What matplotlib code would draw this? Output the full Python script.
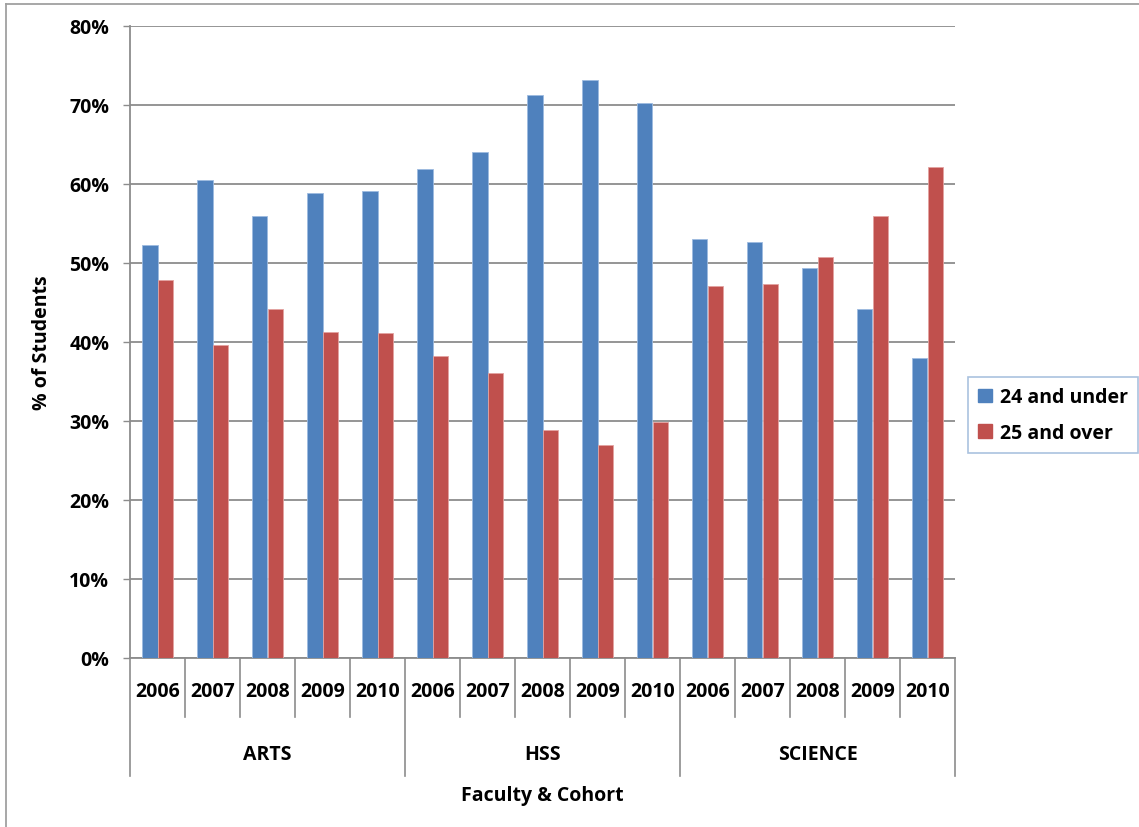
import numpy as np
import matplotlib
matplotlib.use("Agg")
import matplotlib.pyplot as plt
from matplotlib.lines import Line2D
from matplotlib.patches import Patch
from matplotlib.transforms import blended_transform_factory

plt.rcParams['font.family'] = ['Open Sans', 'DejaVu Sans']
plt.rcParams['font.weight'] = 'bold'

faculties = ["ARTS", "HSS", "SCIENCE"]
years = ["2006", "2007", "2008", "2009", "2010"]
under_24 = [52.3, 60.5, 55.9, 58.9, 59.1,
            61.9, 64.1, 71.3, 73.2, 70.3,
            53.0, 52.7, 49.4, 44.2, 38.0]
over_25 = [47.8, 39.6, 44.2, 41.2, 41.1,
           38.2, 36.0, 28.8, 26.9, 29.8,
           47.1, 47.3, 50.7, 55.9, 62.1]
series_names = ["24 and under", "25 and over"]

blue = "#4F81BD"
red = "#C0504D"
grid_col = "#8C8C8C"
fs = 14

W, H = 1139, 828
fig = plt.figure(figsize=(W / 100, H / 100), dpi=100)
left, right, top, bottom = 130, 955, 27, 658.7
ax = fig.add_axes([left / W, (H - bottom) / H, (right - left) / W, (bottom - top) / H])

n = len(under_24)
x = np.arange(n)
w = 0.28
ax.bar(x - w / 2, under_24, w, color=blue, edgecolor="#9dbbe0", linewidth=0.6, zorder=3)
ax.bar(x + w / 2, over_25, w, color=red, edgecolor="#e3a3a1", linewidth=0.6, zorder=3)

ax.set_xlim(-0.5, n - 0.5)
ax.set_ylim(0, 80)
ax.set_yticks(np.arange(0, 81, 10))
ax.set_yticklabels(["{}%".format(v) for v in range(0, 81, 10)], fontsize=fs, fontweight="bold")
ax.yaxis.grid(True, color=grid_col, linewidth=1.3, zorder=0)
ax.tick_params(axis="y", direction="out", length=5, width=1, color=grid_col, pad=10)

for s in ["top", "right"]:
    ax.spines[s].set_visible(False)
for s in ["left", "bottom"]:
    ax.spines[s].set_color(grid_col)
    ax.spines[s].set_linewidth(1.3)

# year labels as x ticks
ax.set_xticks(x)
ax.set_xticklabels(years * len(faculties), fontsize=fs, fontweight="bold")
ax.tick_params(axis="x", length=0, pad=17)

# separator lines of the two-level category axis
trans = blended_transform_factory(ax.transData, ax.transAxes)
ax_h = bottom - top
y_short = -(718 - bottom) / ax_h
y_long = -(777 - bottom) / ax_h
for k in range(n + 1):
    yb = y_long if k % len(years) == 0 else y_short
    ax.plot([k - 0.5, k - 0.5], [0, yb], color=grid_col, linewidth=1.2,
            transform=trans, clip_on=False)

y_fac = -(755 - bottom) / ax_h
for i, fac in enumerate(faculties):
    xc = i * len(years) + (len(years) - 1) / 2
    ax.text(xc, y_fac, fac, transform=trans, ha="center", va="center",
            fontsize=fs, fontweight="bold")

fig.text((left + right) / 2 / W, 1 - 796 / H, "Faculty & Cohort", ha="center", va="center",
         fontsize=fs, fontweight="bold")
fig.text(42 / W, 1 - (top + bottom) / 2 / H, "% of Students", ha="center", va="center",
         rotation=90, fontsize=fs, fontweight="bold")

handles = [Patch(color=blue), Patch(color=red)]
leg = fig.legend(handles, series_names, loc="center",
                 bbox_to_anchor=(1053 / W, 1 - 416 / H),
                 prop={"size": fs, "weight": "bold"}, frameon=True, fancybox=False,
                 handlelength=0.7, handleheight=0.7, handletextpad=0.4,
                 labelspacing=0.8, borderpad=0.55)
leg.get_frame().set_edgecolor("#95B3D7")
leg.get_frame().set_linewidth(1.2)

# outer chart border (top and left visible)
fig.add_artist(Line2D([6 / W, 6 / W], [0, 1 - 5 / H], color="#A0A0A0", linewidth=1.3,
                      transform=fig.transFigure))
fig.add_artist(Line2D([6 / W, 1], [1 - 5 / H, 1 - 5 / H], color="#A0A0A0", linewidth=1.3,
                      transform=fig.transFigure))

fig.savefig("out.png", dpi=100)
